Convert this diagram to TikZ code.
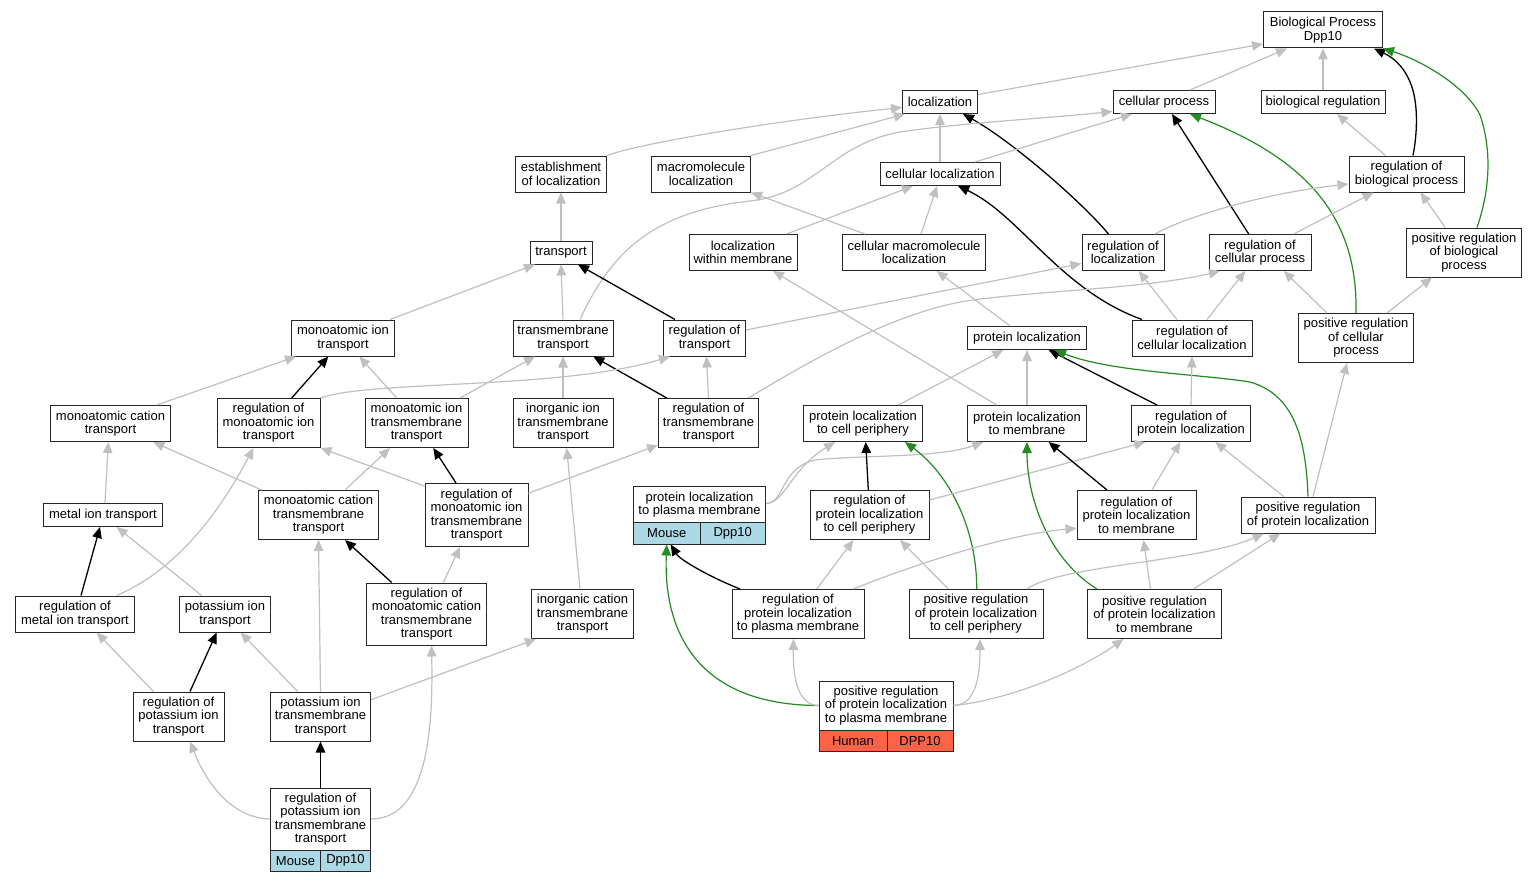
\documentclass[tikz,border=0pt]{standalone}
\usepackage{fontspec}
\setmainfont{Liberation Sans}
\usetikzlibrary{arrows.meta,calc}
\definecolor{edgegray}{HTML}{C0C0C0}
\definecolor{fgreen}{HTML}{228B22}
\definecolor{mouseblue}{HTML}{ADD8E6}
\definecolor{humanred}{HTML}{FF6347}
\newcommand\gofont{\fontsize{13}{13.5}\selectfont}
\tikzset{
  gobox/.style={draw=black!85, line width=1pt, fill=white, inner sep=0pt, align=center, font=\gofont},
  cellM/.style={gobox, fill=mouseblue},
  cellH/.style={gobox, fill=humanred},
  gr/.style={draw=edgegray, line width=1.2pt, -{Triangle[length=11pt,width=9.5pt]}},
  bk/.style={draw=black, line width=1.3pt, -{Triangle[length=11pt,width=9.5pt]}},
  gn/.style={draw=fgreen, line width=1.2pt, -{Triangle[length=11pt,width=9.5pt]}}
}
\begin{document}
\begin{tikzpicture}[x=1pt,y=-1pt]
\fill[white] (0,0) rectangle (1537,883);
\useasboundingbox (0,0) rectangle (1537,883);
% ---------- nodes ----------
\node[gobox,minimum width=119pt,minimum height=36pt] (bp) at (1323,30) {Biological Process\\Dpp10};
\node[gobox,minimum width=75pt,minimum height=23pt] (loc) at (940,102) {localization};
\node[gobox,minimum width=102pt,minimum height=23pt] (cp) at (1164,102) {cellular process};
\node[gobox,minimum width=124pt,minimum height=23pt] (br) at (1323,102) {biological regulation};
\node[gobox,minimum width=91pt,minimum height=36pt] (eol) at (561,174) {establishment\\of localization};
\node[gobox,minimum width=99pt,minimum height=36pt] (mml) at (701,174) {macromolecule\\localization};
\node[gobox,minimum width=120pt,minimum height=23pt] (cl) at (940,174) {cellular localization};
\node[gobox,minimum width=115pt,minimum height=36pt] (rbp) at (1406.5,174) {regulation of\\biological process};
\node[gobox,minimum width=62pt,minimum height=23pt] (tr) at (561,252.5) {transport};
\node[gobox,minimum width=108pt,minimum height=36pt] (lwm) at (743,252.5) {localization\\within membrane};
\node[gobox,minimum width=143pt,minimum height=36pt] (cmml) at (914,252.5) {cellular macromolecule\\localization};
\node[gobox,minimum width=82pt,minimum height=36pt] (rol) at (1123,252.5) {regulation of\\localization};
\node[gobox,minimum width=102pt,minimum height=36pt] (rcp) at (1260,252.5) {regulation of\\cellular process};
\node[gobox,minimum width=115pt,minimum height=49pt] (prbp) at (1464,252.5) {positive regulation\\of biological\\process};
\node[gobox,minimum width=103pt,minimum height=36pt] (mit) at (343,338) {monoatomic ion\\transport};
\node[gobox,minimum width=100pt,minimum height=36pt] (tmt) at (563,338) {transmembrane\\transport};
\node[gobox,minimum width=82pt,minimum height=36pt] (rot) at (704.5,338) {regulation of\\transport};
\node[gobox,minimum width=119pt,minimum height=23pt] (pl) at (1027,338) {protein localization};
\node[gobox,minimum width=120pt,minimum height=36pt] (rcl) at (1192,338) {regulation of\\cellular localization};
\node[gobox,minimum width=115pt,minimum height=49pt] (prcp) at (1356,338) {positive regulation\\of cellular\\process};
\node[gobox,minimum width=120pt,minimum height=36pt] (mct) at (110.5,423.5) {monoatomic cation\\transport};
\node[gobox,minimum width=103pt,minimum height=49pt] (rmit) at (268.5,423) {regulation of\\monoatomic ion\\transport};
\node[gobox,minimum width=103pt,minimum height=49pt] (mitt) at (416.5,423) {monoatomic ion\\transmembrane\\transport};
\node[gobox,minimum width=100pt,minimum height=49pt] (iitt) at (563,423) {inorganic ion\\transmembrane\\transport};
\node[gobox,minimum width=100pt,minimum height=49pt] (rtt) at (708.5,423) {regulation of\\transmembrane\\transport};
\node[gobox,minimum width=119pt,minimum height=36pt] (plcp) at (863,423.5) {protein localization\\to cell periphery};
\node[gobox,minimum width=119pt,minimum height=36pt] (plm) at (1027,423.5) {protein localization\\to membrane};
\node[gobox,minimum width=119pt,minimum height=36pt] (rpl) at (1191,423.5) {regulation of\\protein localization};
\node[gobox,minimum width=119pt,minimum height=23pt] (mett) at (103,515) {metal ion transport};
\node[gobox,minimum width=120pt,minimum height=49pt] (mctt) at (318.5,515) {monoatomic cation\\transmembrane\\transport};
\node[gobox,minimum width=103pt,minimum height=63pt] (rmitt) at (476.5,515) {regulation of\\monoatomic ion\\transmembrane\\transport};
\node[gobox,minimum width=132pt,minimum height=36pt] (plpm) at (699.5,504.5) {protein localization\\to plasma membrane};
\node[cellM,minimum width=66.5pt,minimum height=21.5pt] (plpmA) at (666.75,533.25) {Mouse};
\node[cellM,minimum width=65.5pt,minimum height=21.5pt] (plpmB) at (732.75,533.25) {Dpp10};
\node[gobox,minimum width=119pt,minimum height=49pt] (rplcp) at (869.5,515) {regulation of\\protein localization\\to cell periphery};
\node[gobox,minimum width=119pt,minimum height=49pt] (rplm) at (1136.5,515) {regulation of\\protein localization\\to membrane};
\node[gobox,minimum width=134pt,minimum height=36pt] (prpl) at (1308,515) {positive regulation\\of protein localization};
\node[gobox,minimum width=119pt,minimum height=36pt] (rmett) at (75,614) {regulation of\\metal ion transport};
\node[gobox,minimum width=91pt,minimum height=36pt] (pit) at (225,614) {potassium ion\\transport};
\node[gobox,minimum width=120pt,minimum height=62pt] (rmctt) at (426.5,614) {regulation of\\monoatomic cation\\transmembrane\\transport};
\node[gobox,minimum width=102pt,minimum height=49pt] (ictt) at (582.5,614) {inorganic cation\\transmembrane\\transport};
\node[gobox,minimum width=132pt,minimum height=49pt] (rplpm) at (798,614) {regulation of\\protein localization\\to plasma membrane};
\node[gobox,minimum width=134pt,minimum height=49pt] (prplcp) at (976,614) {positive regulation\\of protein localization\\to cell periphery};
\node[gobox,minimum width=134pt,minimum height=49pt] (prplm) at (1154.5,614) {positive regulation\\of protein localization\\to membrane};
\node[gobox,minimum width=91pt,minimum height=49pt] (rpit) at (178.5,716.5) {regulation of\\potassium ion\\transport};
\node[gobox,minimum width=100pt,minimum height=49pt] (pitt) at (320.5,716.5) {potassium ion\\transmembrane\\transport};
\node[gobox,minimum width=100pt,minimum height=62pt] (rpitt) at (320.5,819) {regulation of\\potassium ion\\transmembrane\\transport};
\node[cellM,minimum width=50pt,minimum height=21.5pt] (rpittA) at (295.5,860.75) {Mouse};
\node[cellM,minimum width=50pt,minimum height=21.5pt] (rpittB) at (345.5,860.75) {Dpp10};
\node[gobox,minimum width=134pt,minimum height=49pt] (prplpm) at (886,705.5) {positive regulation\\of protein localization\\to plasma membrane};
\node[cellH,minimum width=68pt,minimum height=21.5pt] (prplpmA) at (853,740.75) {Human};
\node[cellH,minimum width=66pt,minimum height=21.5pt] (prplpmB) at (920,740.75) {DPP10};
% ---------- edges ----------
\draw[gr] ($(loc.east)+(0,-7.5)$) -- ($(bp.west)+(0,14)$);
\draw[gr] ($(cp.north)+(26,0)$) -- ($(bp.south)+(-36,0)$);
\draw[gr] (br.north) -- (bp.south);
\draw[bk] ($(rbp.north)+(6.5,0)$) .. controls (1418,130) and (1418,100) .. (1410,82) .. controls (1403,65) and (1392,57) .. ($(bp.south)+(51,0)$);
\draw[gn] ($(prbp.north)+(13,0)$) .. controls (1490,190) and (1492,150) .. (1480,115) .. controls (1465,85) and (1420,60) .. (bp.south east);
\draw[gr] (eol.north east) .. controls (640,143) and (780,120) .. ($(loc.west)+(0,5.5)$);
\draw[gr] (mml.north east) -- ($(loc.south west)+(3,0)$);
\draw[gr] (cl.north) -- (loc.south);
\draw[bk] ($(rol.north)+(-14.5,0)$) .. controls (1080,200) and (1010,140) .. ($(loc.south)+(23,0)$);
\draw[gr] ($(cl.north)+(35,0)$) -- ($(cp.south)+(-32,0)$);
\draw[gr] ($(tmt.north)+(17,0)$) .. controls (610,255) and (650,212) .. (750,201) .. controls (815,194) and (830,145) .. (900,132) .. controls (960,123) and (1050,118) .. ($(cp.west)+(0,9.5)$);
\draw[bk] ($(rcp.north)+(-11.3,0)$) -- ($(cp.south)+(8,0)$);
\draw[gn] (prcp.north) .. controls (1358,220) and (1310,160) .. ($(cp.south)+(26,0)$);
\draw[gr] ($(rbp.north)+(-21,0)$) -- ($(br.south)+(14,0)$);
\draw[gr] (tr.north) -- (eol.south);
\draw[gr] ($(cmml.north)+(-49,0)$) -- (mml.south east);
\draw[gr] ($(lwm.north)+(43.7,0)$) -- ($(cl.south)+(-27,0)$);
\draw[gr] ($(cmml.north)+(7,0)$) -- ($(cl.south)+(-3,0)$);
\draw[bk] ($(rcl.north)+(-50,0)$) .. controls (1060,290) and (1020,215) .. ($(cl.south)+(18,0)$);
\draw[gr] ($(rol.north)+(32,0)$) .. controls (1175,222) and (1250,195) .. ($(rbp.west)+(0,10)$);
\draw[gr] ($(rcp.north)+(33.7,0)$) -- ($(rbp.south)+(-33,0)$);
\draw[gr] ($(prbp.north)+(-18.7,0)$) -- ($(rbp.south)+(14,0)$);
\draw[gr] ($(mit.north)+(47,0)$) -- ($(tr.south)+(-26,0)$);
\draw[gr] (tmt.north) -- (tr.south);
\draw[bk] ($(rot.north)+(-29.5,0)$) -- ($(tr.south)+(17,0)$);
\draw[gr] ($(plm.north)+(-30.3,0)$) -- ($(lwm.south)+(30,0)$);
\draw[gr] ($(pl.north)+(-17,0)$) -- ($(cmml.south)+(22.7,0)$);
\draw[gr] ($(rot.east)+(0,-8)$) -- ($(rol.west)+(0,11)$);
\draw[gr] ($(rcl.north)+(-15,0)$) -- ($(rol.south)+(15.7,0)$);
\draw[gr] ($(rcl.north)+(15,0)$) -- ($(rcp.south)+(-14.7,0)$);
\draw[gr] ($(rtt.north)+(39.8,0)$) .. controls (820,355) and (900,310) .. (973,300) .. controls (1050,290) and (1150,288) .. ($(rcp.south)+(-40,0)$);
\draw[gr] ($(prcp.north)+(-29,0)$) -- ($(rcp.south)+(23.7,0)$);
\draw[gr] ($(prcp.north)+(31,0)$) -- ($(prbp.south)+(-32,0)$);
\draw[gr] ($(mct.north)+(46.2,0)$) -- ($(mit.south)+(-47,0)$);
\draw[bk] ($(rmit.north)+(23.2,0)$) -- ($(mit.south)+(-14.7,0)$);
\draw[gr] ($(mitt.north)+(-19.8,0)$) -- ($(mit.south)+(16.3,0)$);
\draw[gr] ($(mitt.north)+(43.5,0)$) -- ($(tmt.south)+(-28,0)$);
\draw[gr] (iitt.north) -- (tmt.south);
\draw[bk] ($(rtt.north)+(-41.8,0)$) -- ($(tmt.south)+(30.3,0)$);
\draw[gr] (rmit.north east) .. controls (370,380) and (560,390) .. ($(rot.south)+(-34.5,0)$);
\draw[gr] (rtt.north) -- ($(rot.south)+(2,0)$);
\draw[gr] ($(plcp.north)+(35.3,0)$) -- ($(pl.south)+(-23.7,0)$);
\draw[gr] (plm.north) -- (pl.south);
\draw[bk] ($(rpl.north)+(-34,0)$) -- ($(pl.south)+(21.7,0)$);
\draw[gn] (prpl.north) .. controls (1306,440) and (1295,395) .. (1250,382) .. controls (1200,374) and (1110,372) .. ($(pl.south)+(28,0)$);
\draw[gr] (rpl.north) -- (rcl.south);
\draw[gr] ($(prpl.north)+(5,0)$) -- ($(prcp.south)+(-9,0)$);
\draw[gr] ($(mett.north)+(2,0)$) -- ($(mct.south)+(-2.2,0)$);
\draw[gr] ($(mctt.north)+(-56.8,0)$) -- ($(mct.south)+(42.8,0)$);
\draw[gr] ($(rmett.north)+(41.7,0)$) .. controls (165,575) and (210,530) .. ($(rmit.south)+(-15,0)$);
\draw[gr] ($(mctt.north)+(26.5,0)$) -- ($(mitt.south)+(-26.5,0)$);
\draw[gr] ($(rmitt.north west)+(0,3)$) -- (rmit.south east);
\draw[bk] ($(rmitt.north)+(-20.5,0)$) -- ($(mitt.south)+(16.8,0)$);
\draw[gr] ($(rmitt.east)+(0,-21.7)$) -- ($(rtt.west)+(0,22)$);
\draw[gr] ($(ictt.north)+(-2.5,0)$) -- ($(iitt.south)+(3.7,0)$);
\draw[gr] ($(plpm.east)+(0,-1)$) .. controls (785,503) and (790,470) .. ($(plcp.south)+(-28,0)$);
\draw[gr] ($(plpm.east)+(0,-1)$) .. controls (785,503) and (780,468) .. (815,460) .. controls (860,455) and (940,458) .. ($(plm.south)+(-43.7,0)$);
\draw[bk] ($(rplcp.north)+(-1.2,0)$) -- ($(plcp.south)+(2.7,0)$);
\draw[gn] ($(prplcp.north)+(0.7,0)$) .. controls (977,530) and (950,475) .. ($(plcp.south)+(42,0)$);
\draw[gr] ($(rplcp.east)+(0,-15)$) -- ($(rpl.south)+(-45.7,0)$);
\draw[bk] ($(rplm.north)+(-29.5,0)$) -- ($(plm.south)+(21.7,0)$);
\draw[gn] ($(prplm.north)+(-57.5,0)$) .. controls (1050,560) and (1027,500) .. (plm.south);
\draw[gr] ($(rplm.north)+(15.5,0)$) -- ($(rpl.south)+(-10.7,0)$);
\draw[gr] ($(prpl.north)+(-24.3,0)$) -- ($(rpl.south)+(24.3,0)$);
\draw[gr] ($(pit.north)+(-23.3,0)$) -- ($(mett.south)+(13.7,0)$);
\draw[bk] ($(rmett.north)+(6,0)$) -- ($(mett.south)+(-3,0)$);
\draw[bk] ($(rmctt.north)+(-34.8,0)$) -- ($(mctt.south)+(26.5,0)$);
\draw[gr] ($(rmctt.north)+(16.8,0)$) -- ($(rmitt.south)+(-16.5,0)$);
\draw[gr] (pitt.north) -- (mctt.south);
\draw[bk] ($(rplpm.north)+(-58,0)$) .. controls (710,577) and (680,560) .. ($(plpmA.south)+(4,0)$);
\draw[gr] ($(rplpm.north)+(18.7,0)$) -- ($(rplcp.south)+(-16,0)$);
\draw[gr] ($(rplpm.north)+(55.3,0)$) .. controls (900,570) and (1000,535) .. ($(rplm.west)+(0,13.3)$);
\draw[gr] ($(prplcp.north)+(-27.7,0)$) -- ($(rplcp.south)+(30.5,0)$);
\draw[gr] ($(prplcp.north)+(51,0)$) .. controls (1060,565) and (1200,562) .. ($(prpl.south)+(-44.3,0)$);
\draw[gr] ($(prplm.north)+(-4,0)$) -- ($(rplm.south)+(7,0)$);
\draw[gr] ($(prplm.north)+(39,0)$) -- ($(prpl.south)+(-27.7,0)$);
\draw[gr] ($(rpit.north)+(-25,0)$) -- ($(rmett.south)+(21.7,0)$);
\draw[bk] ($(rpit.north)+(11.5,0)$) -- ($(pit.south)+(-8.3,0)$);
\draw[gr] ($(pitt.north)+(-22.8,0)$) -- ($(pit.south)+(15.7,0)$);
\draw[gr] ($(pitt.east)+(0,-16.8)$) -- ($(ictt.south)+(-46.5,0)$);
\draw[bk] (rpitt.north) -- (pitt.south);
\draw[gr] (rpitt.west) .. controls (230,818) and (205,780) .. ($(rpit.south)+(11.5,0)$);
\draw[gr] (rpitt.east) .. controls (430,819) and (433,720) .. ($(rmctt.south)+(5,0)$);
\draw[gn] (prplpm.west) .. controls (680,705) and (664,610) .. (plpmA.south);
\draw[gr] (prplpm.west) .. controls (795,705) and (793,670) .. ($(rplpm.south)+(-4.5,0)$);
\draw[gr] (prplpm.east) .. controls (978,705) and (980,670) .. ($(prplcp.south)+(4,0)$);
\draw[gr] (prplpm.east) .. controls (1010,700) and (1080,670) .. ($(prplm.south)+(-31,0)$);
\end{tikzpicture}
\end{document}
